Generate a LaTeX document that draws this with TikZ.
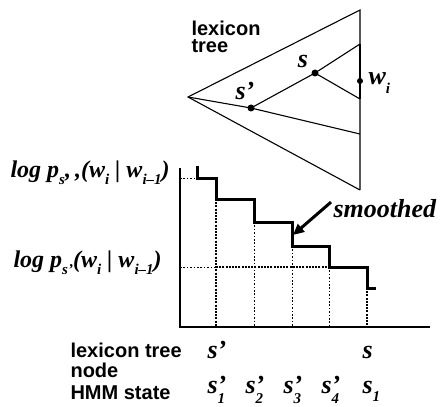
\documentclass[tikz,border=0pt]{standalone}
\usepackage{fontspec}
\setmainfont{Liberation Serif}
\newfontfamily\hv{Liberation Sans}
\usetikzlibrary{arrows.meta}
\newcommand\mysub[1]{\raisebox{-0.32em}{\fontsize{15}{15}\selectfont #1}}
\newcommand\hmms[1]{s\rlap{’}\raisebox{-0.42em}{\fontsize{15}{15}\selectfont #1}}
\begin{document}
\begin{tikzpicture}[x=1pt,y=-1pt,line width=1.1pt,
  thinline/.style={line width=1.1pt},
  stair/.style={line width=3pt,line join=miter},
  thickdot/.style={line width=2.6pt,dash pattern=on 2pt off 1.2pt},
  thindot/.style={line width=1pt,dash pattern=on 1.6pt off 1.8pt},
  dotmark/.style={circle,fill=black,inner sep=0pt,minimum size=7pt},
  sanslabel/.style={font=\hv\bfseries\fontsize{20}{20}\selectfont,inner sep=0pt,align=left},
  itlabel/.style={font=\bfseries\itshape\fontsize{26}{26}\selectfont,inner sep=0pt},
  loglabel/.style={font=\bfseries\itshape\fontsize{24}{24}\selectfont,inner sep=0pt}]
\useasboundingbox (0,0) rectangle (446,406);
% ---------- lexicon tree ----------
\coordinate (root) at (188,97);
\coordinate (top) at (360,10);
\coordinate (bot) at (360,190);
\coordinate (sp) at (251,108);
\coordinate (s) at (315,73);
\coordinate (ua) at (360,44);
\coordinate (ub) at (360,99);
\coordinate (uc) at (360,134);
\coordinate (w) at (360,81);
\draw[thinline] (bot) -- (root) -- (top) -- (bot);
\draw[thinline] (root) -- (sp) -- (s) -- (ua);
\draw[thinline] (s) -- (ub);
\draw[thinline] (sp) -- (uc);
\draw[line width=2pt] (ua) -- (ub);
\node[dotmark] (dsp) at (sp) {};
\node[dotmark] (ds) at (s) {};
\node[dotmark,minimum size=6pt] (dw) at (w) {};
\node[sanslabel,anchor=base west] (lt) at (191,36) {lexicon};
\node[sanslabel,anchor=base west] (lt2) at (191,53) {tree};
\node[itlabel,anchor=base] (ls) at (303,68) {s};
\node[itlabel,anchor=base] (lsp) at (245,100) {s’};
\node[itlabel,anchor=base west] (lw) at (368,85) {w\mysub{i}};
% ---------- graph ----------
\coordinate (o) at (180,327);
\coordinate (ytop) at (180,168);
\coordinate (xend) at (430,327);
\draw[thinline] (ytop) -- (o) -- (xend);
\coordinate (p0) at (197,166);
\coordinate (p1) at (197,178);
\coordinate (p2) at (216,178);
\coordinate (p3) at (216,199);
\coordinate (p4) at (254,199);
\coordinate (p5) at (254,222);
\coordinate (p6) at (292,222);
\coordinate (p7) at (292,246);
\coordinate (p8) at (329,246);
\coordinate (p9) at (329,267);
\coordinate (p10) at (367,267);
\coordinate (p11) at (367,288);
\coordinate (p12) at (376,288);
% dotted guides
\draw[thindot] (180,178) -- (p1);
\draw[thindot] (180,267) -- (216,267);
\draw[thickdot] (216,267) -- (p9);
\draw[thickdot] (p3) -- (216,327);
\draw[thindot] (p5) -- (254,327);
\draw[thindot] (p7) -- (292,327);
\draw[thindot] (p9) -- (329,327);
\draw[thickdot] (p11) -- (367,327);
\draw[stair] (p0) -- (p1) -- (p2) -- (p3) -- (p4) -- (p5) -- (p6) -- (p7) -- (p8) -- (p9) -- (p10) -- (p11) -- (p12);
% labels
\node[loglabel,anchor=base west] (l1) at (10,177) {log p\mysub{s},\,,(w\mysub{i} | w\mysub{i–1})};
\node[loglabel,anchor=base west] (l2) at (13,267) {log p\mysub{s’}(w\mysub{i} | w\mysub{i–1})};
\node[itlabel,anchor=base west] (sm) at (333,217) {smoothed};
\coordinate (arrtip) at (293,235);
\draw[line width=3pt,-{Triangle[length=11pt,width=10pt]}] (sm.west) ++(-2,-6) coordinate (arrtail) -- (arrtip);
% bottom labels
\node[sanslabel,anchor=base west] (b1) at (70,357) {lexicon tree};
\node[sanslabel,anchor=base west] (b2) at (70,377) {node};
\node[sanslabel,anchor=base west] (b3) at (70,399) {HMM state};
\node[itlabel,anchor=base west] (n1) at (207,358) {s’};
\node[itlabel,anchor=base west] (n2) at (362,358) {s};
\node[itlabel,anchor=base west] (h1) at (207,393) {\hmms{1}};
\node[itlabel,anchor=base west] (h2) at (245,393) {\hmms{2}};
\node[itlabel,anchor=base west] (h3) at (283,393) {\hmms{3}};
\node[itlabel,anchor=base west] (h4) at (321,393) {\hmms{4}};
\node[itlabel,anchor=base west] (h5) at (362,393) {s\mysub{1}};
\end{tikzpicture}
\end{document}
